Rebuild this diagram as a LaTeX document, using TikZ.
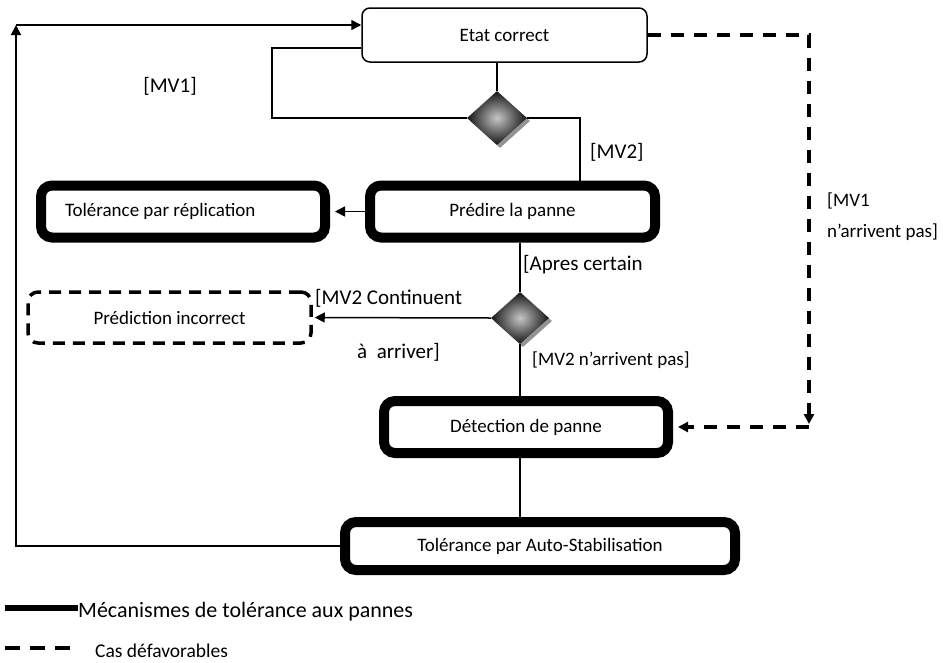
\documentclass[tikz,border=0pt]{standalone}
\usepackage{fontspec}
\setmainfont{Carlito}
\usetikzlibrary{arrows.meta}
\usetikzlibrary{shapes.geometric}
\usetikzlibrary{shadows}

\begin{document}
\begin{tikzpicture}[x=1pt,y=-1pt,
  etatbox/.style={draw, line width=1.5pt, rounded corners=8pt, minimum width=285pt, minimum height=54pt, font=\fontsize{19}{22}\selectfont},
  mecabox/.style={draw, line width=10pt, rounded corners=11pt, minimum height=52pt, font=\fontsize{19}{22}\selectfont},
  casbox/.style={draw, line width=3.5pt, dash pattern=on 12pt off 8pt, rounded corners=10pt, minimum width=283pt, minimum height=51pt, font=\fontsize{19}{22}\selectfont},
  choix/.style={diamond, minimum width=60pt, minimum height=54pt, inner sep=0pt, shading=radial, inner color=gray!45, outer color=black!92, drop shadow={shadow xshift=3pt, shadow yshift=-3pt, fill=gray!85, opacity=1}},
  fil/.style={line width=1.5pt},
  defav/.style={line width=3.5pt, dash pattern=on 13pt off 10pt},
  lbl/.style={font=\fontsize{21}{24}\selectfont, inner sep=0pt},
  >={Triangle[length=10pt,width=10pt]}]
\useasboundingbox (0,0) rectangle (943,662);

\node[etatbox] (etat) at (504.5,35) {Etat correct};
\node[choix] (choix1) at (497,118) {};
\node[mecabox, minimum width=285pt] (predire) at (512.5,211.5) {Prédire la panne};
\node[mecabox, text width=236pt, inner xsep=24pt, align=flush left] (replic) at (183,211.5) {Tolérance par réplication};
\node[casbox] (incorrect) at (169.5,317.5) {Prédiction incorrect};
\node[choix, minimum width=58pt, minimum height=52pt] (choix2) at (520,318) {};
\node[mecabox, minimum width=284pt] (detect) at (526,427) {Détection de panne};
\node[mecabox, minimum width=390pt, minimum height=48pt] (stab) at (540,546) {Tolérance par Auto-Stabilisation};

\coordinate (retour) at (16,25);
\coordinate (boucle) at (272,48);
\coordinate (coin) at (809,427);

\draw[fil] (etat.south -| choix1) -- (choix1.north);
\draw[fil] (choix1.west) -| (boucle) -- (boucle -| etat.west);
\draw[fil] (choix1.east) -| ([xshift=67.5pt]predire.north);
\draw[fil, ->, shorten >=5pt] (predire.west) -- (replic.east);
\draw[fil] (choix2 |- predire.south) -- (choix2.north);
\draw[fil, ->, shorten >=2pt] (choix2.west) -- (incorrect.east);
\draw[fil] (choix2.south) -- (choix2 |- detect.north);
\draw[fil] (choix2 |- detect.south) -- (choix2 |- stab.north);
\draw[fil, ->] (stab.west) -| (retour);
\draw[fil, ->] (retour) -- (retour -| etat.west);
\draw[defav, ->, shorten >=3pt] (etat.east) -| (coin);
\draw[defav, ->, shorten >=5pt] (coin) -- (detect.east);

\node[lbl] (mv1) at (170,86) {[MV1]};
\node[lbl, anchor=west] (mv2) at (590,152) {[MV2]};
\node[lbl, anchor=west] (apres) at (523,265) {[Apres certain};
\node[lbl, anchor=west] (continuent) at (315,298) {[MV2 Continuent};
\node[lbl, anchor=west] (arriver) at (357,352) {à\ \ arriver]};
\node[lbl, anchor=west, font=\fontsize{19}{22}\selectfont] (narrivent) at (532,360) {[MV2 n’arrivent pas]};
\node[lbl, anchor=west, align=left, font=\fontsize{19}{31}\selectfont] (mv1pas) at (827,217) {[MV1\\n’arrivent pas]};

\node[lbl, anchor=west, font=\fontsize{22}{25}\selectfont] (mecanismes) at (78,612) {Mécanismes de tolérance aux pannes};
\node[lbl, anchor=west, font=\fontsize{19.5}{22}\selectfont] (casdef) at (95,651) {Cas défavorables};
\draw[line width=6pt] (5,608) -- (mecanismes.west |- 0,608);
\draw[line width=4pt, dash pattern=on 15pt off 10pt] (5,648) -- (73,648);
\end{tikzpicture}
\end{document}
